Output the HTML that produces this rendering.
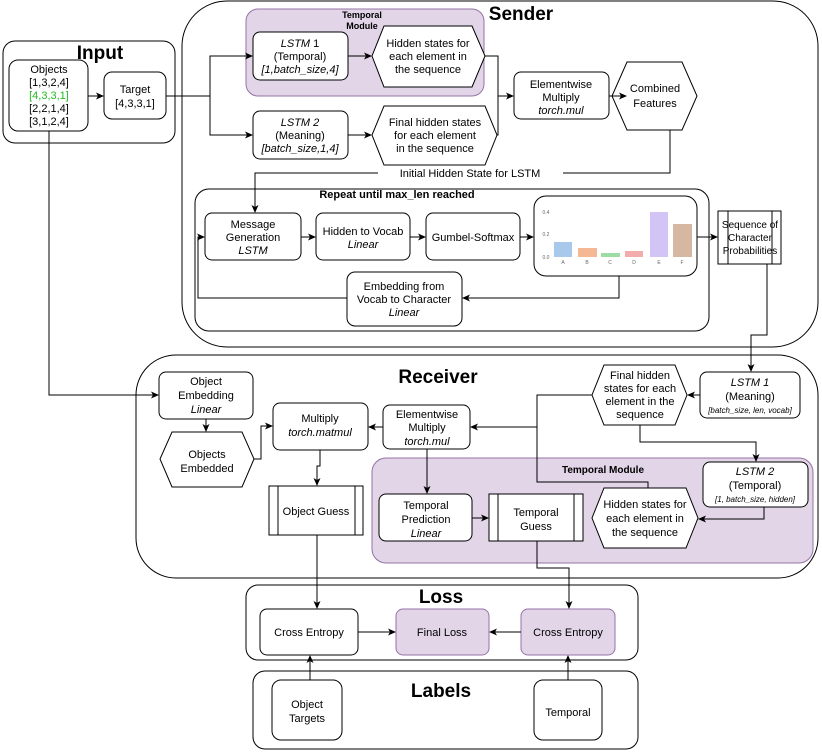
<!DOCTYPE html>
<html><head><meta charset="utf-8"><style>
html,body{margin:0;padding:0;background:#fff}
svg{display:block}
text{font-family:"Liberation Sans",sans-serif;font-size:11px;fill:#000;text-anchor:middle}
.b{font-weight:bold}
.i{font-style:italic}
.t{font-size:19px;font-weight:bold}
text.c{font-size:5px;fill:#666}
text.s{font-size:10px}
</style></head><body>
<svg width="822" height="753" viewBox="0 0 822 753" xmlns="http://www.w3.org/2000/svg">
<defs><marker id="a" markerWidth="8" markerHeight="8" refX="7" refY="4" orient="auto" markerUnits="userSpaceOnUse"><path d="M0,0.5 L8,4 L0,7.5 L2,4 Z" fill="#000"/></marker></defs>
<g fill="none" stroke="#000" stroke-width="1">
<rect x="3" y="41" width="172" height="102" rx="12"/>
<rect x="182" y="1" width="636" height="346" rx="45"/>
<rect x="246" y="9" width="238" height="87" rx="12" fill="#e1d5e7" stroke="#9673a6"/>
<rect x="195" y="189" width="514" height="142" rx="14"/>
<rect x="136" y="355" width="682" height="223" rx="40"/>
<rect x="372" y="458" width="441" height="105" rx="14" fill="#e1d5e7" stroke="#9673a6"/>
<rect x="246" y="585" width="392" height="75" rx="12"/>
<rect x="253" y="671" width="385" height="78" rx="12"/>
<rect x="9" y="60" width="79" height="71" rx="9" fill="#fff"/>
<rect x="104" y="72" width="62" height="47" rx="8" fill="#fff"/>
<rect x="253" y="32" width="95" height="48" rx="7" fill="#fff"/>
<path d="M384,26 L472,26 L485,56 L472,87 L384,87 L372,56 Z" fill="#fff"/>
<rect x="253" y="111" width="95" height="48" rx="7" fill="#fff"/>
<path d="M384,106 L485,106 L497,135 L485,165 L384,165 L372,135 Z" fill="#fff"/>
<rect x="514" y="72" width="95" height="47" rx="7" fill="#fff"/>
<path d="M627,62 L682,62 L697,96 L682,130 L627,130 L612,96 Z" fill="#fff"/>
<rect x="205" y="213" width="96" height="47" rx="7" fill="#fff"/>
<rect x="316" y="213" width="94" height="47" rx="7" fill="#fff"/>
<rect x="426" y="213" width="94" height="47" rx="7" fill="#fff"/>
<rect x="534" y="196" width="163" height="80" rx="12" fill="#fff"/>
<rect x="347" y="272" width="115" height="54" rx="8" fill="#fff"/>
<rect x="718" y="211" width="63" height="53" fill="#fff"/>
<path d="M728,211 V264 M772,211 V264"/>
<rect x="700" y="372" width="100" height="46" rx="7" fill="#fff"/>
<path d="M604,365 L675,365 L687,395 L675,425 L604,425 L592,395 Z" fill="#fff"/>
<rect x="703" y="462" width="105" height="45" rx="7" fill="#fff"/>
<path d="M604,488 L686,488 L698,518 L686,548 L604,548 L592,518 Z" fill="#fff"/>
<rect x="383" y="405" width="87" height="44" rx="7" fill="#fff"/>
<rect x="273" y="403" width="95" height="47" rx="7" fill="#fff"/>
<rect x="159" y="372" width="94" height="47" rx="7" fill="#fff"/>
<path d="M172,432 L242,432 L254,459 L242,487 L172,487 L160,459 Z" fill="#fff"/>
<rect x="269" y="486" width="94" height="49" fill="#fff"/>
<path d="M278,486 V535 M355,486 V535"/>
<rect x="379" y="494" width="93" height="47" rx="7" fill="#fff"/>
<rect x="489" y="494" width="94" height="47" fill="#fff"/>
<path d="M498,494 V541 M574,494 V541"/>
<rect x="260" y="609" width="98" height="46" rx="7" fill="#fff"/>
<rect x="396" y="609" width="93" height="46" rx="7" fill="#e1d5e7" stroke="#9673a6"/>
<rect x="521" y="609" width="94" height="46" rx="7" fill="#e1d5e7" stroke="#9673a6"/>
<rect x="272" y="680" width="70" height="60" rx="9" fill="#fff"/>
<rect x="534" y="680" width="68" height="60" rx="9" fill="#fff"/>
<path d="M88,96 H103" marker-end="url(#a)"/>
<path d="M166,96 H210 V56 H252" marker-end="url(#a)"/>
<path d="M210,96 V135 H252" marker-end="url(#a)"/>
<path d="M348,56 H371" marker-end="url(#a)"/>
<path d="M348,135 H371" marker-end="url(#a)"/>
<path d="M485,56 H498 V135 H497"/>
<path d="M498,96 H513" marker-end="url(#a)"/>
<path d="M609,96 H626" marker-end="url(#a)"/>
<path d="M670,130 V173 H255 V212" marker-end="url(#a)"/>
<path d="M301,237 H315" marker-end="url(#a)"/>
<path d="M410,237 H425" marker-end="url(#a)"/>
<path d="M520,237 H533" marker-end="url(#a)"/>
<path d="M697,237 H717" marker-end="url(#a)"/>
<path d="M619,276 V298 H463" marker-end="url(#a)"/>
<path d="M347,298 H198 V237 H204" marker-end="url(#a)"/>
<path d="M767,264 V335 H751 V371" marker-end="url(#a)"/>
<path d="M49,131 V395 H158" marker-end="url(#a)"/>
<path d="M700,395 H688" marker-end="url(#a)"/>
<path d="M640,425 V442 H756 V461" marker-end="url(#a)"/>
<path d="M764,507 V519 H699" marker-end="url(#a)"/>
<path d="M648,488 V482 H537 V395 H592"/>
<path d="M537,427 H471" marker-end="url(#a)"/>
<path d="M383,427 H369" marker-end="url(#a)"/>
<path d="M427,449 V493" marker-end="url(#a)"/>
<path d="M472,518 H488" marker-end="url(#a)"/>
<path d="M206,419 V431" marker-end="url(#a)"/>
<path d="M254,459 H261 V426 H272" marker-end="url(#a)"/>
<path d="M320,450 V466 H317 V485" marker-end="url(#a)"/>
<path d="M317,535 V608" marker-end="url(#a)"/>
<path d="M537,541 V568 H569 V608" marker-end="url(#a)"/>
<path d="M358,632 H395" marker-end="url(#a)"/>
<path d="M521,632 H490" marker-end="url(#a)"/>
<path d="M310,680 V656" marker-end="url(#a)"/>
<path d="M568,680 V656" marker-end="url(#a)"/>
</g>
<rect x="554" y="242" width="18" height="15" fill="#a9c9ec"/>
<rect x="578" y="248" width="19" height="9" fill="#f5b895"/>
<rect x="601" y="253" width="19" height="4" fill="#9ddca3"/>
<rect x="625" y="251" width="18" height="6" fill="#f4abab"/>
<rect x="650" y="212" width="18" height="45" fill="#d2c4f5"/>
<rect x="673" y="224" width="19" height="33" fill="#d6b8a2"/>
<text class="c" x="546" y="214">0.4</text><text class="c" x="546" y="236">0.2</text><text class="c" x="546" y="259">0.0</text>
<text class="c" x="563" y="264">A</text><text class="c" x="587" y="264">B</text><text class="c" x="610" y="264">C</text><text class="c" x="634" y="264">D</text><text class="c" x="659" y="264">E</text><text class="c" x="682" y="264">F</text>
<rect x="378" y="166" width="185" height="14" fill="#fff"/>
<text class="t" x="100" y="59">Input</text>
<text class="t" x="521" y="20">Sender</text>
<text class="t" x="438" y="383">Receiver</text>
<text class="t" x="441" y="603">Loss</text>
<text class="t" x="441" y="697">Labels</text>
<text class="b" x="362" y="18" style="font-size:9px">Temporal</text>
<text class="b" x="362" y="29" style="font-size:9px">Module</text>
<text class="b" x="397" y="198">Repeat until max_len reached</text>
<text class="b" x="603" y="473" style="font-size:10px">Temporal Module</text>
<text x="49" y="73">Objects</text><text x="49" y="86">[1,3,2,4]</text><text x="49" y="99" style="fill:#22bb22">[4,3,3,1]</text><text x="49" y="112">[2,2,1,4]</text><text x="49" y="125">[3,1,2,4]</text>
<text x="135" y="93">Target</text><text x="135" y="107">[4,3,3,1]</text>
<text x="300" y="47"><tspan class="i">LSTM</tspan> 1</text><text x="300" y="60">(Temporal)</text><text class="i" x="300" y="73">[1,batch_size,4]</text>
<text x="428" y="47">Hidden states for</text><text x="428" y="60">each element in</text><text x="428" y="73">the sequence</text>
<text x="300" y="126" class="i">LSTM 2</text><text x="300" y="139">(Meaning)</text><text class="i" x="300" y="152">[batch_size,1,4]</text>
<text x="435" y="126">Final hidden states</text><text x="435" y="139">for each element</text><text x="435" y="152">in the sequence</text>
<text x="561" y="88">Elementwise</text><text x="561" y="101">Multiply</text><text class="i" x="561" y="114">torch.mul</text>
<text x="655" y="92">Combined</text><text x="655" y="107">Features</text>
<text x="470" y="177">Initial Hidden State for LSTM</text>
<text x="253" y="228">Message</text><text x="253" y="241">Generation</text><text class="i" x="253" y="254">LSTM</text>
<text x="363" y="235">Hidden to Vocab</text><text class="i" x="363" y="248">Linear</text>
<text x="473" y="241">Gumbel-Softmax</text>
<text x="404" y="290">Embedding from</text><text x="404" y="303">Vocab to Character</text><text class="i" x="404" y="316">Linear</text>
<text class="s" x="750" y="228">Sequence of</text><text class="s" x="750" y="241">Character</text><text class="s" x="750" y="254">Probabilities</text>
<text x="750" y="386" class="i">LSTM 1</text><text x="750" y="400">(Meaning)</text><text class="i" x="750" y="413" style="font-size:8px">[batch_size, len, vocab]</text>
<text x="640" y="379">Final hidden</text><text x="640" y="392">states for each</text><text x="640" y="405">element in the</text><text x="640" y="418">sequence</text>
<text x="755" y="475" class="i">LSTM 2</text><text x="755" y="489">(Temporal)</text><text class="i" x="755" y="502" style="font-size:8px">[1, batch_size, hidden]</text>
<text x="645" y="508">Hidden states for</text><text x="645" y="522">each element in</text><text x="645" y="536">the sequence</text>
<text x="427" y="418">Elementwise</text><text x="427" y="431">Multiply</text><text class="i" x="427" y="445">torch.mul</text>
<text x="320" y="422">Multiply</text><text class="i" x="320" y="436">torch.matmul</text>
<text x="206" y="385">Object</text><text x="206" y="399">Embedding</text><text class="i" x="206" y="413">Linear</text>
<text x="207" y="458">Objects</text><text x="207" y="472">Embedded</text>
<text x="316" y="515">Object Guess</text>
<text x="426" y="509">Temporal</text><text x="426" y="523">Prediction</text><text class="i" x="426" y="537">Linear</text>
<text x="536" y="516">Temporal</text><text x="536" y="530">Guess</text>
<text x="309" y="636">Cross Entropy</text>
<text x="442" y="636">Final Loss</text>
<text x="568" y="636">Cross Entropy</text>
<text x="307" y="708">Object</text><text x="307" y="722">Targets</text>
<text x="568" y="716">Temporal</text>
</svg>
</body></html>
